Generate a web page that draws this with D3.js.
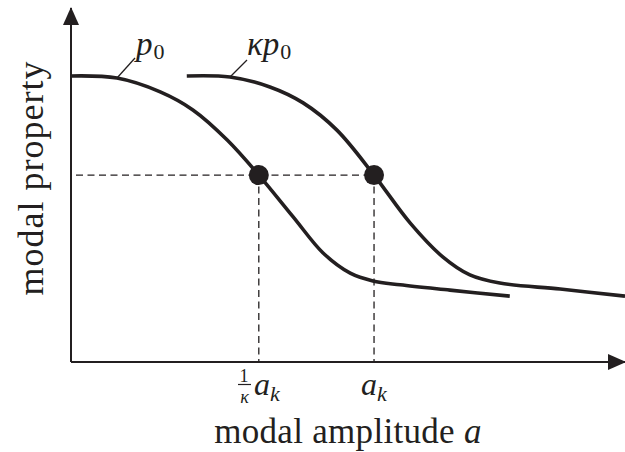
<!DOCTYPE html>
<html><head><meta charset="utf-8">
<script src="https://cdn.jsdelivr.net/npm/d3@7"></script>
<style>
html,body{margin:0;padding:0;background:#fff;}
svg{display:block;}
text{font-family:"Liberation Serif","Times New Roman",serif;fill:#231f20;}
</style></head>
<body>
<svg id="chart" width="625" height="452"></svg>
<script>
// ---- data (schematic units: amplitude 0..10, property 0..1) ----
const p0Amp   = [0.00, 0.83, 1.61, 2.20, 2.82, 3.39, 4.01, 4.55, 5.04, 5.45, 5.94, 6.84, 7.92];
const p0Prop  = [0.808,0.802,0.763,0.712,0.627,0.528,0.410,0.308,0.251,0.229,0.218,0.203,0.186];
const kp0Amp  = [2.09, 2.87, 3.59, 4.19, 4.80, 5.47, 6.12, 6.71, 7.20, 7.74, 8.83, 10.0];
const kp0Prop = [0.808,0.805,0.777,0.732,0.655,0.528,0.393,0.297,0.246,0.223,0.206,0.186];
const markAmp = [3.39, 5.47];       // 1/κ a_k  and  a_k
const markProp = 0.528;
const tickLabels = ["1/κ a_k", "a_k"];
const curveLabels = ["p0", "κp0"];
const xTitle = "modal amplitude ";
const yTitle = "modal property";

const ink = "#231f20";
const svg = d3.select("#chart");
const x = d3.scaleLinear().domain([0, 10]).range([71, 625]);
const y = d3.scaleLinear().domain([0, 1]).range([362, 8]);

// axes with arrows
svg.append("defs").append("marker")
  .attr("id","arr").attr("viewBox","0 0 18 16").attr("refX",17).attr("refY",8)
  .attr("markerWidth",18).attr("markerHeight",16).attr("markerUnits","userSpaceOnUse")
  .attr("orient","auto")
  .append("path").attr("d","M0,0 L18,8 L0,16 Z").attr("fill",ink);

svg.append("line").attr("x1",x(0)).attr("y1",y(0)).attr("x2",x(0)).attr("y2",y(1))
  .attr("stroke",ink).attr("stroke-width",2).attr("marker-end","url(#arr)");
svg.append("line").attr("x1",x(0)).attr("y1",y(0)).attr("x2",x(10)).attr("y2",y(0))
  .attr("stroke",ink).attr("stroke-width",2).attr("marker-end","url(#arr)");

// dashed guides
svg.append("line").attr("x1",x(0)+5).attr("x2",x(markAmp[1])).attr("y1",y(markProp)).attr("y2",y(markProp))
  .attr("stroke",ink).attr("stroke-width",1.3).attr("stroke-dasharray","7,4.5");
markAmp.forEach(a=>{
  svg.append("line").attr("x1",x(a)).attr("x2",x(a)).attr("y1",y(markProp)).attr("y2",y(0))
    .attr("stroke",ink).attr("stroke-width",1.3).attr("stroke-dasharray","7,4.5");
});

// curves
const line = d3.line().x(d=>x(d[0])).y(d=>y(d[1])).curve(d3.curveCatmullRom.alpha(0.5));
const p0 = p0Amp.map((a,i)=>[a,p0Prop[i]]);
const kp0 = kp0Amp.map((a,i)=>[a,kp0Prop[i]]);
[p0,kp0].forEach(c=>{
  svg.append("path").attr("d",line(c)).attr("fill","none").attr("stroke",ink).attr("stroke-width",3.6);
});

// dots
svg.selectAll("circle.dot").data(markAmp).enter().append("circle")
  .attr("cx",d=>x(d)).attr("cy",y(markProp)).attr("r",10).attr("fill",ink);

// leader lines and curve labels
svg.append("line").attr("x1",117).attr("y1",78).attr("x2",135).attr("y2",58).attr("stroke",ink).attr("stroke-width",1.3);
svg.append("line").attr("x1",230).attr("y1",77).attr("x2",247).attr("y2",60).attr("stroke",ink).attr("stroke-width",1.3);

const l1 = svg.append("text").attr("x",136).attr("y",55).attr("font-size",33);
l1.append("tspan").attr("font-style","italic").text("p");
l1.append("tspan").attr("font-size",22).attr("dy",4).attr("dx",1).text("0");

const l2 = svg.append("text").attr("x",247).attr("y",55).attr("font-size",33);
l2.append("tspan").attr("font-style","italic").text("κp");
l2.append("tspan").attr("font-size",22).attr("dy",4).attr("dx",1).text("0");

// tick labels
// 1/κ a_k
svg.append("text").attr("x",244).attr("y",382).attr("font-size",18).attr("text-anchor","middle").text("1");
svg.append("line").attr("x1",238).attr("x2",251).attr("y1",384.5).attr("y2",384.5).attr("stroke",ink).attr("stroke-width",1.2);
svg.append("text").attr("x",244.5).attr("y",403).attr("font-size",18).attr("font-style","italic").attr("text-anchor","middle").text("κ");
const t1 = svg.append("text").attr("x",254).attr("y",395).attr("font-size",32).attr("font-style","italic");
t1.append("tspan").text("a");
t1.append("tspan").attr("font-size",22).attr("dy",6).text("k");
// a_k
const t2 = svg.append("text").attr("x",361).attr("y",395).attr("font-size",32).attr("font-style","italic");
t2.append("tspan").text("a");
t2.append("tspan").attr("font-size",22).attr("dy",6).text("k");

// axis titles
const xt = svg.append("text").attr("x",348).attr("y",443).attr("text-anchor","middle")
  .attr("font-size",35).attr("letter-spacing",0.3);
xt.append("tspan").text(xTitle);
xt.append("tspan").attr("font-style","italic").text("a");

svg.append("text").attr("transform","translate(43,178) rotate(-90)").attr("text-anchor","middle")
  .attr("font-size",36).attr("letter-spacing",1.0).text(yTitle);
</script>
</body></html>
